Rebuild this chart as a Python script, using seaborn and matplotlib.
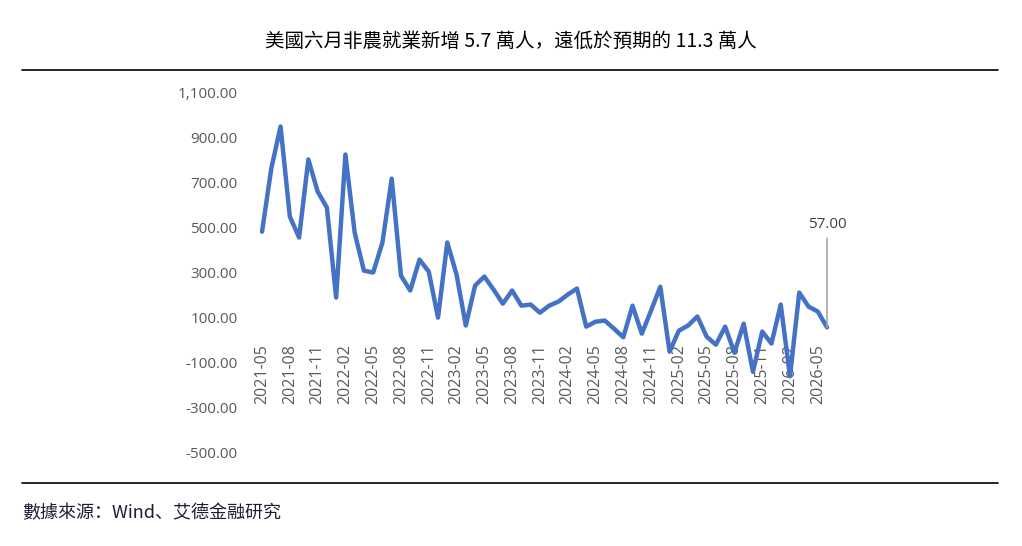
import matplotlib
matplotlib.use("Agg")
from matplotlib import pyplot as plt
from matplotlib.lines import Line2D
from matplotlib.ticker import FuncFormatter
import pandas as pd
import seaborn as sns

# data (non-farm payrolls, thousands)
months = pd.period_range("2021-05", "2026-06", freq="M").strftime("%Y-%m").tolist()
payrolls = [481, 761, 947, 548, 455, 801, 659, 588, 189, 823,
            477, 308, 300, 433, 716, 286, 220, 357, 304, 100,
            433, 291, 65, 242, 282, 224, 162, 220, 153, 158,
            122, 153, 171, 202, 229, 60, 82, 87, 51, 13,
            153, 29, 131, 237, -51, 42, 65, 105, 16, -20,
            60, -55, 73, -140, 38, -15, 158, -160, 211, 149,
            127, 57]
y_ticks = [-500, -300, -100, 100, 300, 500, 700, 900, 1100]
last_label = "57.00"

title = "美國六月非農就業新增 5.7 萬人，遠低於預期的 11.3 萬人"
source = "數據來源：Wind、艾德金融研究"

sns.set_style("white")
plt.rcParams["font.family"] = ["Noto Sans CJK SC", "DejaVu Sans"]

df = pd.DataFrame({"month": months, "value": payrolls})
df["pos"] = range(len(df))

W, H = 1022, 546
fig = plt.figure(figsize=(W / 100, H / 100), dpi=100)
ax = fig.add_axes([250 / W, 1 - 453 / H, 590 / W, (453 - 92) / H])

sns.lineplot(data=df, x="pos", y="value", ax=ax, color="#4472C4",
             linewidth=3.2, solid_joinstyle="round", solid_capstyle="round",
             zorder=3)

# category axis crosses at zero, labels hang just below it
# (set the spine position first, it resets the ticks)
for s in ax.spines.values():
    s.set_visible(False)
ax.spines["bottom"].set_position(("data", 0))

ax.set_xlim(-1.3, 62.4)
ax.set_ylim(-500, 1100)
ax.set_yticks(y_ticks)
ax.yaxis.set_major_formatter(FuncFormatter(lambda v, p: "{:,.2f}".format(v)))
ax.set_xticks(df["pos"][::3])
ax.set_xticklabels(df["month"][::3], rotation=90)
ax.set_xlabel("")
ax.set_ylabel("")

ax.tick_params(axis="both", length=0, colors="#595959")
ax.tick_params(axis="y", pad=9, labelsize=11)
ax.tick_params(axis="x", pad=3, labelsize=11.5)
for lab in ax.get_xticklabels() + ax.get_yticklabels():
    lab.set_fontfamily(["Open Sans", "DejaVu Sans"])

# label for last point
ax.annotate(last_label, xy=(df["pos"].iloc[-1], payrolls[-1]),
            xytext=(df["pos"].iloc[-1], 478), ha="center", va="bottom",
            fontsize=11, color="#404040", family=["Open Sans", "DejaVu Sans"],
            arrowprops=dict(arrowstyle="-", color="#a6a6a6", lw=1.2,
                            shrinkA=2, shrinkB=0))

fig.text(0.5, 1 - 41 / H, title, ha="center", va="center", fontsize=14,
         color="black")
fig.text(22 / W, 1 - 513 / H, source, ha="left", va="center", fontsize=13,
         style="italic", color="#231a33")
for y in (70, 483):
    fig.add_artist(Line2D([22 / W, 998 / W], [1 - y / H, 1 - y / H],
                          color="black", lw=1.2))

plt.savefig("out.png", dpi=100)
